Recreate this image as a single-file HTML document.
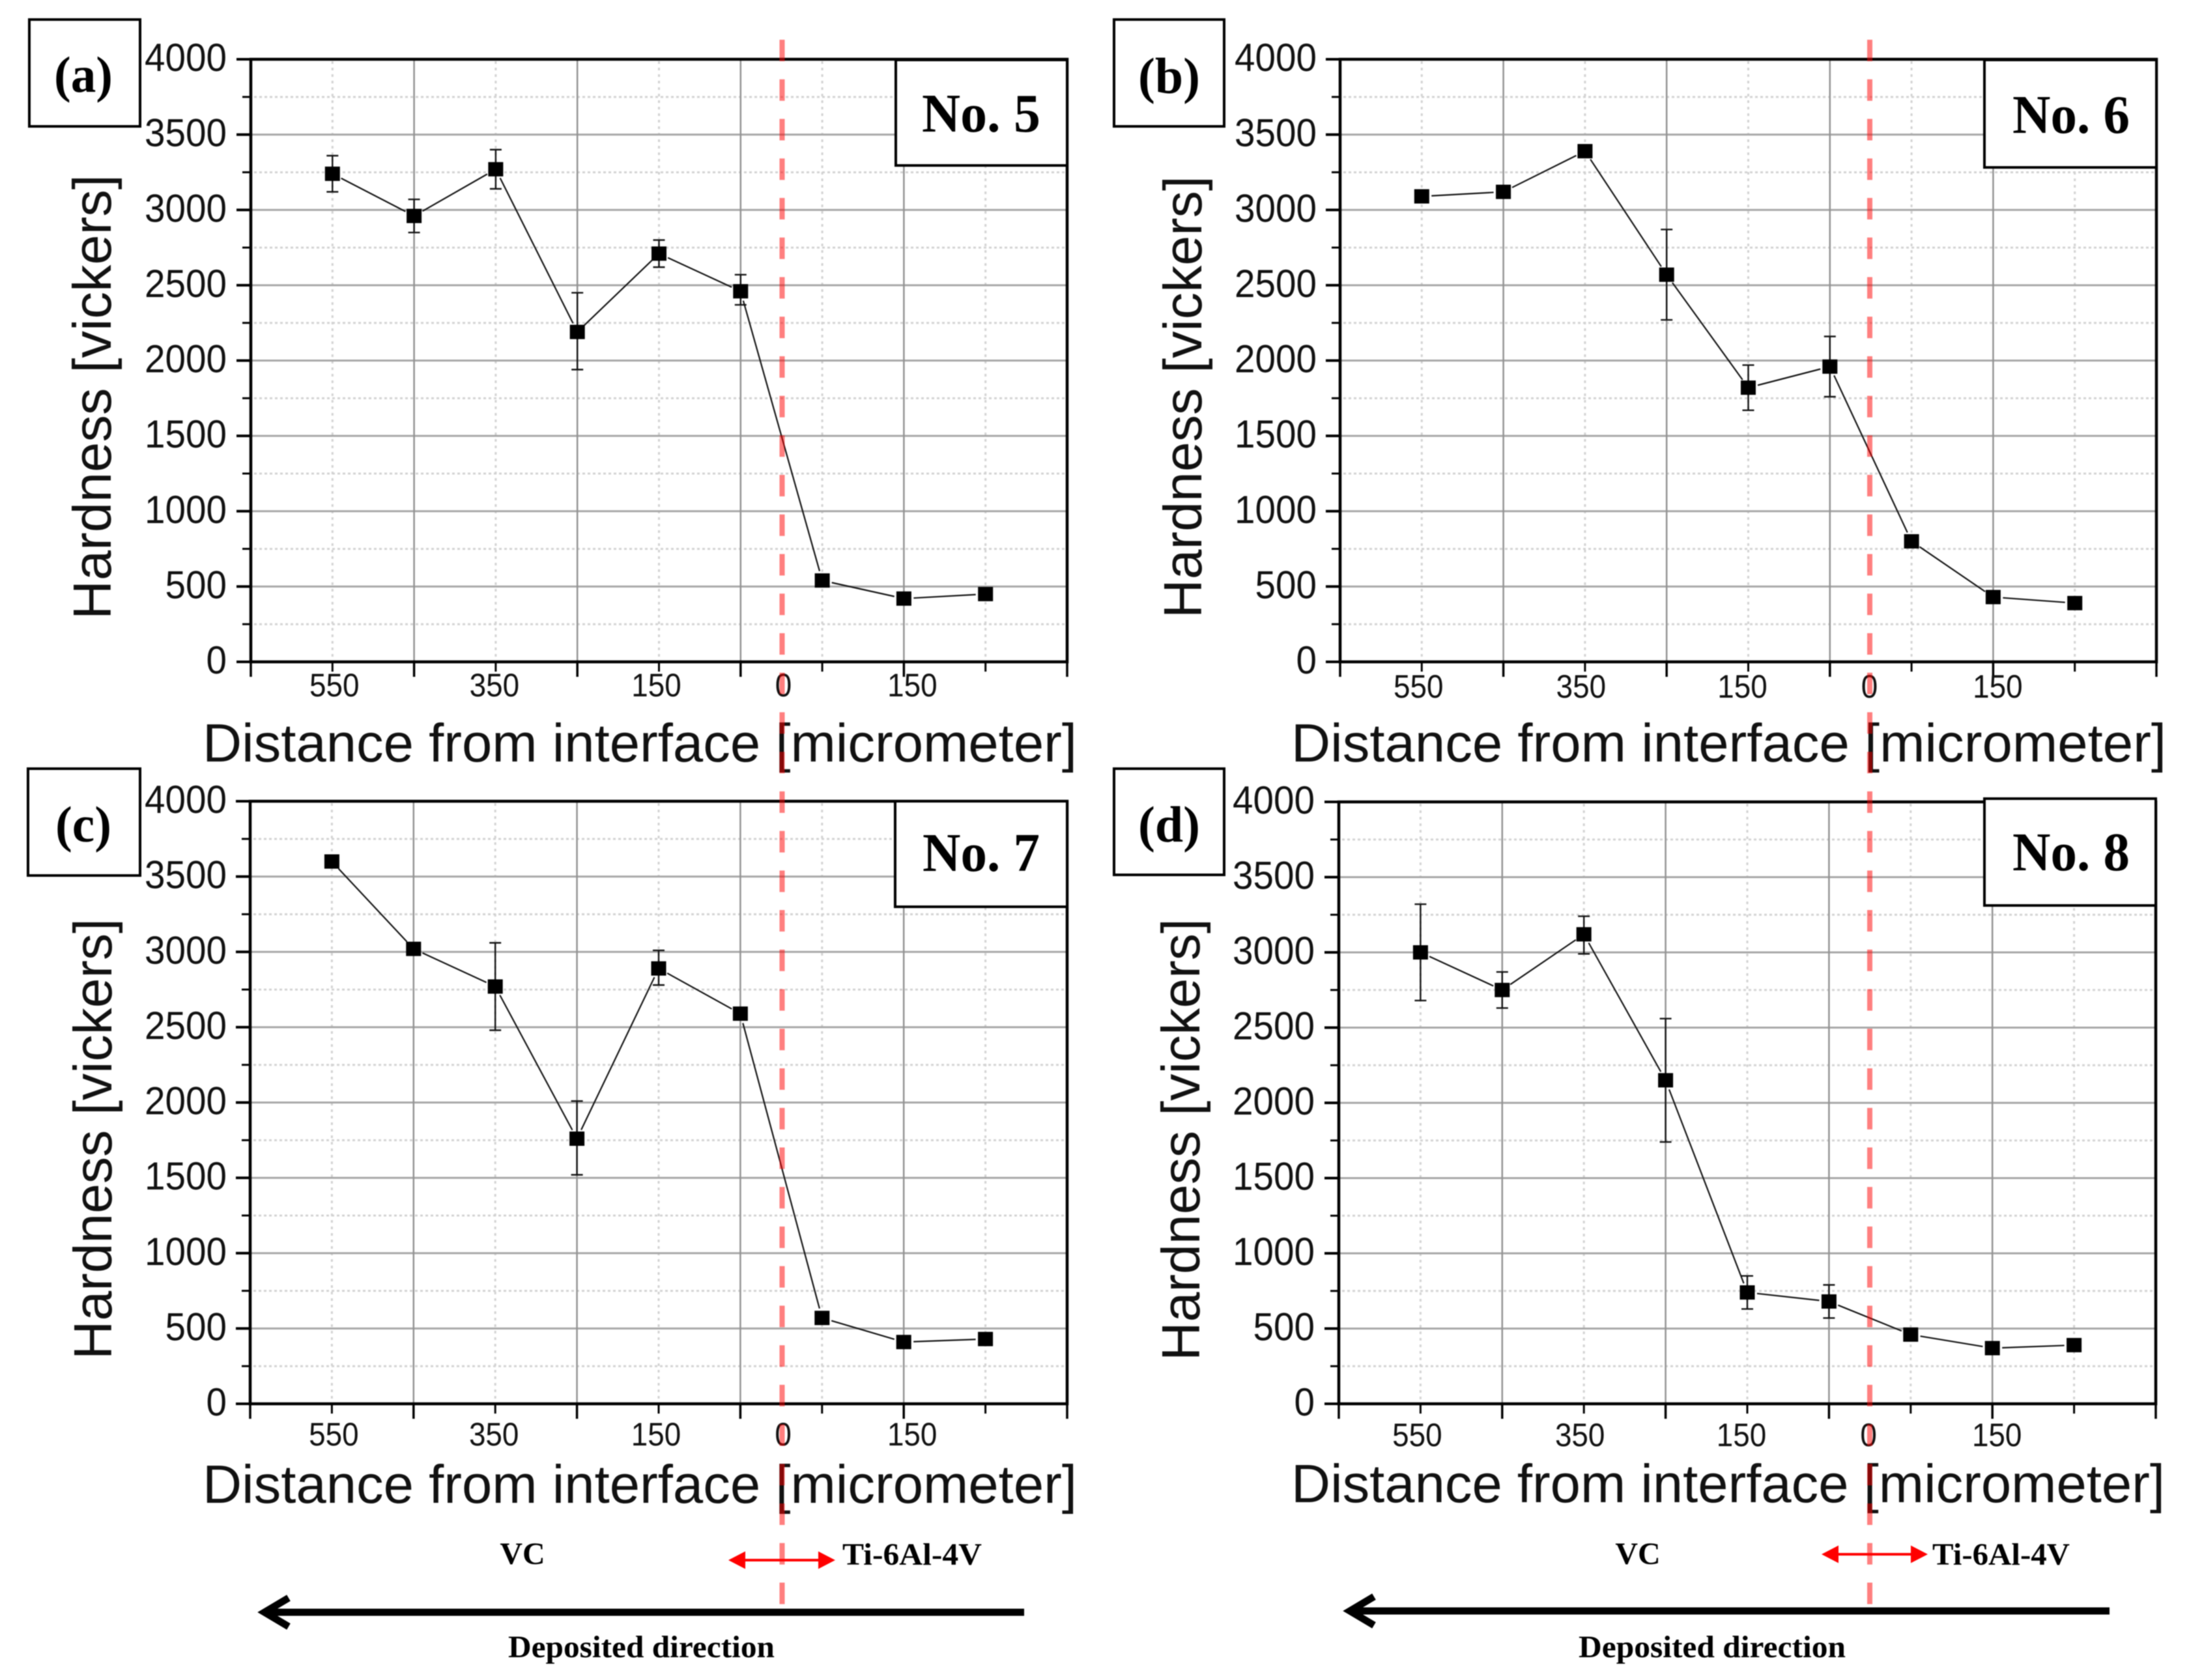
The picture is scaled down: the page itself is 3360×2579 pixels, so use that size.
<!DOCTYPE html>
<html lang="en">
<head>
<meta charset="utf-8">
<title>Hardness vs distance from interface</title>
<style>
html,body{margin:0;padding:0;background:#fff;}
svg{display:block;filter:blur(0.7px);}
.sans{font-family:"Liberation Sans",sans-serif;fill:#111;}
.serif{font-family:"Liberation Serif",serif;font-weight:bold;fill:#000;}
.box{fill:#fff;stroke:#000;stroke-width:4;}
.axis-title{font-size:83px;}
.letter{font-size:78px;}
.num{font-size:84px;}
.note{font-size:48px;}
.interface{stroke:#ff0000;stroke-opacity:.5;stroke-width:8;stroke-dasharray:33 27.73;fill:none;}
</style>
</head>
<body>
<svg id="figure" xmlns="http://www.w3.org/2000/svg" width="3360" height="2579" viewBox="0 0 3360 2579">
<rect width="3360" height="2579" fill="#fff"/>

<g id="panel-a"></g>
<g id="panel-b"></g>
<g id="panel-c"></g>
<g id="panel-d"></g>

<g>
  <rect class="box" x="45" y="30" width="170" height="164"/>
  <text class="serif letter" x="83" y="141" textLength="90" lengthAdjust="spacingAndGlyphs">(a)</text>
  <rect class="box" x="1375" y="92" width="263" height="162"/>
  <text class="serif num" x="1415" y="202" textLength="182" lengthAdjust="spacingAndGlyphs">No. 5</text>
  <text class="sans axis-title" transform="translate(170,951) rotate(-90)" textLength="683" lengthAdjust="spacingAndGlyphs">Hardness [vickers]</text>
  <text class="sans axis-title" x="311" y="1169" textLength="1342" lengthAdjust="spacingAndGlyphs">Distance from interface [micrometer]</text>
</g>
<g>
  <rect class="box" x="1710" y="30" width="169" height="164"/>
  <text class="serif letter" x="1747" y="143" textLength="95" lengthAdjust="spacingAndGlyphs">(b)</text>
  <rect class="box" x="3046" y="92" width="264" height="165"/>
  <text class="serif num" x="3089" y="204" textLength="180" lengthAdjust="spacingAndGlyphs">No. 6</text>
  <text class="sans axis-title" transform="translate(1844,949) rotate(-90)" textLength="679" lengthAdjust="spacingAndGlyphs">Hardness [vickers]</text>
  <text class="sans axis-title" x="1982" y="1169" textLength="1343" lengthAdjust="spacingAndGlyphs">Distance from interface [micrometer]</text>
</g>
<g>
  <rect class="box" x="43" y="1180" width="172" height="164"/>
  <text class="serif letter" x="85" y="1292" textLength="86" lengthAdjust="spacingAndGlyphs">(c)</text>
  <rect class="box" x="1374" y="1230" width="264" height="162"/>
  <text class="serif num" x="1416" y="1337" textLength="180" lengthAdjust="spacingAndGlyphs">No. 7</text>
  <text class="sans axis-title" transform="translate(171,2087) rotate(-90)" textLength="677" lengthAdjust="spacingAndGlyphs">Hardness [vickers]</text>
  <text class="sans axis-title" x="311" y="2307" textLength="1342" lengthAdjust="spacingAndGlyphs">Distance from interface [micrometer]</text>
  <text class="serif note" x="802" y="2401" text-anchor="middle">VC</text>
  <text class="serif note" x="1293" y="2402" textLength="214" lengthAdjust="spacingAndGlyphs">Ti-6Al-4V</text>
  <g>
    <line x1="1140" y1="2395" x2="1260" y2="2395" stroke="#ff0000" stroke-width="4"/>
    <polygon points="1118,2395 1144,2381.5 1144,2408.5" fill="#ff0000"/>
    <polygon points="1282,2395 1256,2381.5 1256,2408.5" fill="#ff0000"/>
  </g>
  <g>
    <line x1="412" y1="2475" x2="1572" y2="2475" stroke="#000" stroke-width="11"/>
    <polyline points="443,2453 406,2475 443,2497" fill="none" stroke="#000" stroke-width="11" stroke-linejoin="miter"/>
  </g>
  <text class="serif note" x="780" y="2544" textLength="409" lengthAdjust="spacingAndGlyphs">Deposited direction</text>
</g>
<g>
  <rect class="box" x="1710" y="1180" width="169" height="163"/>
  <text class="serif letter" x="1747" y="1292" textLength="95" lengthAdjust="spacingAndGlyphs">(d)</text>
  <rect class="box" x="3046" y="1226" width="263" height="164"/>
  <text class="serif num" x="3089" y="1336" textLength="180" lengthAdjust="spacingAndGlyphs">No. 8</text>
  <text class="sans axis-title" transform="translate(1841,2089) rotate(-90)" textLength="679" lengthAdjust="spacingAndGlyphs">Hardness [vickers]</text>
  <text class="sans axis-title" x="1982" y="2306" textLength="1341" lengthAdjust="spacingAndGlyphs">Distance from interface [micrometer]</text>
  <text class="serif note" x="2514" y="2401" text-anchor="middle">VC</text>
  <text class="serif note" x="2966" y="2402" textLength="211" lengthAdjust="spacingAndGlyphs">Ti-6Al-4V</text>
  <g>
    <line x1="2818" y1="2386" x2="2938" y2="2386" stroke="#ff0000" stroke-width="4"/>
    <polygon points="2796,2386 2822,2372.5 2822,2399.5" fill="#ff0000"/>
    <polygon points="2959,2386 2933,2372.5 2933,2399.5" fill="#ff0000"/>
  </g>
  <g>
    <line x1="2078" y1="2473" x2="3238" y2="2473" stroke="#000" stroke-width="11"/>
    <polyline points="2109,2451 2072,2473 2109,2495" fill="none" stroke="#000" stroke-width="11" stroke-linejoin="miter"/>
  </g>
  <text class="serif note" x="2423" y="2544" textLength="410" lengthAdjust="spacingAndGlyphs">Deposited direction</text>
</g>

<line class="interface" x1="1200.5" y1="61" x2="1200.5" y2="2467"/>
<line class="interface" x1="2870" y1="61" x2="2870" y2="2467"/>
</svg>

<script>
// Distance from the interface in micrometres (positive = VC side, plotted to the left)
const distances = [550, 450, 350, 250, 150, 50, -50, -150, -250];

const hardnessA = [3240, 2960, 3270, 2190, 2710, 2460, 540, 420, 450];
const errLowA   = [3120, 2850, 3140, 1940, 2620, 2370, null, null, null];
const errHighA  = [3360, 3070, 3400, 2450, 2800, 2570, null, null, null];

const hardnessB = [3090, 3120, 3390, 2570, 1820, 1960, 800, 430, 390];
const errLowB   = [null, null, null, 2270, 1670, 1760, null, null, null];
const errHighB  = [null, null, null, 2870, 1970, 2160, null, null, null];

const hardnessC = [3600, 3020, 2770, 1760, 2890, 2590, 570, 410, 430];
const errLowC   = [null, null, 2480, 1520, 2780, null, null, null, null];
const errHighC  = [null, null, 3060, 2010, 3010, null, null, null, null];

const hardnessD = [3000, 2750, 3120, 2150, 740, 680, 460, 370, 390];
const errLowD   = [2680, 2630, 2990, 1740, 630, 570, null, null, null];
const errHighD  = [3320, 2870, 3240, 2560, 850, 790, null, null, null];

const yTicks = [0, 500, 1000, 1500, 2000, 2500, 3000, 3500, 4000];
const yMinorTicks = [250, 750, 1250, 1750, 2250, 2750, 3250, 3750];
const xMajorTicks = [650, 450, 250, 50, -150, -350];
const xMinorTicks = [550, 350, 150, -50, -250];
const xLabelPositions = [550, 350, 150, 0, -150];
const xLabels = ["550", "350", "150", "0", "150"];

const X_MAX = 650, X_MIN = -350, Y_MAX = 4000;
const NS = "http://www.w3.org/2000/svg";

function el(parent, tag, attrs) {
  const node = document.createElementNS(NS, tag);
  for (const k in attrs) node.setAttribute(k, attrs[k]);
  parent.appendChild(node);
  return node;
}

function drawPanel(id, frame, hardness, errLow, errHigh) {
  const root = document.getElementById("panel-" + id);
  const xs = d => frame.left + (X_MAX - d) / (X_MAX - X_MIN) * (frame.right - frame.left);
  const ys = v => frame.bottom - v / Y_MAX * (frame.bottom - frame.top);

  // minor grid
  yMinorTicks.forEach(v => {
    const g = el(root, "line", {x1: frame.left + 5, x2: frame.right - 3, y1: ys(v), y2: ys(v), stroke: "#d2d2d2", "stroke-width": 3, "stroke-dasharray": "4 4"});
    
    
    const t = el(root, "line", {x1: frame.left - 13, x2: frame.left, y1: ys(v), y2: ys(v), stroke: "#000", "stroke-width": 3});
    
    
  });
  xMinorTicks.forEach(d => {
    const g = el(root, "line", {x1: xs(d), x2: xs(d), y1: frame.top + 3, y2: frame.bottom - 3, stroke: "#d2d2d2", "stroke-width": 3, "stroke-dasharray": "4 6"});
    
    
    const t = el(root, "line", {x1: xs(d), x2: xs(d), y1: frame.bottom, y2: frame.bottom + 15, stroke: "#000", "stroke-width": 3});
    
    
  });

  // major grid
  yTicks.forEach((v, i) => {
    if (v > 0 && v < Y_MAX) {
      const g = el(root, "line", {x1: frame.left, x2: frame.right, y1: ys(v), y2: ys(v), stroke: "#a6a6a6", "stroke-width": 3});
      
      
    }
    const t = el(root, "line", {x1: frame.left - 22, x2: frame.left, y1: ys(v), y2: ys(v), stroke: "#000", "stroke-width": 4});
    
    
    const label = el(root, "text", {x: frame.left - frame.yLabelGap, y: ys(v) + 18, "text-anchor": "end", class: "sans", "font-size": 60, textLength: String(v).length * 31.5, lengthAdjust: "spacingAndGlyphs"});
    
    
    label.textContent = String(v);
  });
  xMajorTicks.forEach(d => {
    if (d !== X_MAX && d !== X_MIN) {
      const g = el(root, "line", {x1: xs(d), x2: xs(d), y1: frame.top, y2: frame.bottom, stroke: "#929292", "stroke-width": 2.5});
      
      
    }
    const t = el(root, "line", {x1: xs(d), x2: xs(d), y1: frame.bottom, y2: frame.bottom + 23, stroke: "#000", "stroke-width": 3.5});
    
    
  });

  // x tick labels
  xLabels.forEach((txt, i) => {
    const label = el(root, "text", {x: xs(xLabelPositions[i]) + frame.xLabelNudge[i], y: frame.bottom + frame.xLabelDrop, "text-anchor": "middle", class: "sans", "font-size": 50, textLength: txt.length * 25.5, lengthAdjust: "spacingAndGlyphs"});
    
    
    label.textContent = txt;
  });

  // axes frame
  const frameRect = el(root, "rect", {x: frame.left, y: frame.top, width: frame.right - frame.left, height: frame.bottom - frame.top, fill: "none", stroke: "#000", "stroke-width": 4.5});
  
  

  // connecting line segments with a gap around each marker
  const gap = 15;
  for (let i = 0; i < distances.length - 1; i++) {
    const x1 = xs(distances[i]), y1 = ys(hardness[i]);
    const x2 = xs(distances[i + 1]), y2 = ys(hardness[i + 1]);
    const len = Math.hypot(x2 - x1, y2 - y1);
    const ux = (x2 - x1) / len, uy = (y2 - y1) / len;
    const seg = el(root, "line", {x1: x1 + ux * gap, y1: y1 + uy * gap, x2: x2 - ux * gap, y2: y2 - uy * gap, stroke: "#111", "stroke-width": 2.2});
    
    
  }

  // error bars
  distances.forEach((d, i) => {
    if (errLow[i] === null) return;
    const x = xs(d);
    const bar = el(root, "path", {
      d: "M" + x + " " + ys(errLow[i]) + "V" + ys(errHigh[i]) +
         "M" + (x - 9) + " " + ys(errLow[i]) + "H" + (x + 9) +
         "M" + (x - 9) + " " + ys(errHigh[i]) + "H" + (x + 9),
      fill: "none", stroke: "#111", "stroke-width": 2.4});
    
    
  });

  // markers
  distances.forEach((d, i) => {
    const m = el(root, "rect", {x: xs(d) - 11.5, y: ys(hardness[i]) - 11, width: 23, height: 22, fill: "#000"});
    
    
  });
}

const nudgeLeft = [3, -2, -4, 3, 13];
const nudgeRight = [-5, -6, -9, -2, 7];

drawPanel("a", {left: 385, right: 1638, top: 91, bottom: 1016, yLabelGap: 37, xLabelDrop: 53, xLabelNudge: nudgeLeft}, hardnessA, errLowA, errHighA);
drawPanel("b", {left: 2057, right: 3310, top: 91, bottom: 1016, yLabelGap: 36, xLabelDrop: 55, xLabelNudge: nudgeRight}, hardnessB, errLowB, errHighB);
drawPanel("c", {left: 384, right: 1638, top: 1230, bottom: 2155, yLabelGap: 36, xLabelDrop: 64, xLabelNudge: nudgeLeft}, hardnessC, errLowC, errHighC);
drawPanel("d", {left: 2055, right: 3309, top: 1231, bottom: 2155, yLabelGap: 37, xLabelDrop: 65, xLabelNudge: nudgeRight}, hardnessD, errLowD, errHighD);
</script>
</body>
</html>
